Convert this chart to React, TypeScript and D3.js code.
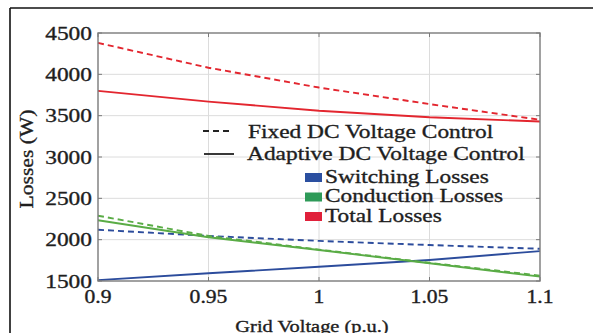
import React from "react";
import * as d3 from "d3";

const voltages = [0.9, 0.95, 1.0, 1.05, 1.1];
const totalFixed = [4380, 4080, 3840, 3640, 3450];
const totalAdaptive = [3800, 3670, 3560, 3480, 3430];
const switchingFixed = [2120, 2045, 1985, 1935, 1890];
const switchingAdaptive = [1510, 1593, 1673, 1754, 1862];
const conductionFixed = [2290, 2045, 1880, 1720, 1565];
const conductionAdaptive = [2235, 2029, 1875, 1715, 1553];
const xTicks = [0.9, 0.95, 1.0, 1.05, 1.1];
const xTickLabels = ["0.9", "0.95", "1", "1.05", "1.1"];
const yTicks = [1500, 2000, 2500, 3000, 3500, 4000, 4500];
const legendStyleItems = ["Fixed DC Voltage Control", "Adaptive DC Voltage Control"];
const legendColorItems = ["Switching Losses", "Conduction Losses", "Total Losses"];

const RED = "#e3262f";
const BLUE = "#2c4c9c";
const GREEN = "#5aac46";
const legendColors = ["#2b4fa0", "#2e9a58", "#e0203a"];

const FONT = "'Liberation Serif', 'Times New Roman', serif";
const TXT = "#1e1e1e";

export default function App() {
  const W = 593, H = 333;
  const x = d3.scaleLinear().domain([0.9, 1.1]).range([98, 540]);
  const y = d3.scaleLinear().domain([1500, 4500]).range([281, 33]);
  const line = d3.line<number>().x((_, i) => x(voltages[i])).y((d) => y(d));

  const series = [
    { data: switchingAdaptive, color: BLUE, dash: null },
    { data: switchingFixed, color: BLUE, dash: "6,4" },
    { data: conductionAdaptive, color: GREEN, dash: null },
    { data: conductionFixed, color: GREEN, dash: "6,4" },
    { data: totalAdaptive, color: RED, dash: null },
    { data: totalFixed, color: RED, dash: "6,4" },
  ];

  const [x0, x1] = x.range();
  const [yb, yt] = y.range();
  const textProps = { fill: TXT, stroke: TXT, strokeWidth: 0.35 };

  return (
    <svg
      width={W}
      height={H}
      style={{ position: "absolute", left: 0, top: 0, background: "#fff" }}
      fontFamily={FONT}
    >
      <rect x={0} y={0} width={W} height={H} fill="#fff" />
      {/* outer frame */}
      <line x1={10} y1={8} x2={W} y2={8} stroke="#111" strokeWidth={1.6} />
      <line x1={10} y1={8} x2={10} y2={H} stroke="#111" strokeWidth={1.6} />

      {/* grid */}
      {xTicks.slice(1, -1).map((t) => (
        <line key={"gx" + t} x1={x(t)} x2={x(t)} y1={yt} y2={yb} stroke="#dcdcdc" strokeWidth={1} />
      ))}
      {yTicks.slice(1, -1).map((t) => (
        <line key={"gy" + t} x1={x0} x2={x1} y1={y(t)} y2={y(t)} stroke="#dcdcdc" strokeWidth={1} />
      ))}

      {/* series */}
      {series.map((s, i) => (
        <path
          key={i}
          d={line(s.data) || ""}
          fill="none"
          stroke={s.color}
          strokeWidth={1.9}
          strokeDasharray={s.dash || undefined}
        />
      ))}

      {/* box */}
      <rect x={x0} y={yt} width={x1 - x0} height={yb - yt} fill="none" stroke="#7a7a7a" strokeWidth={1.4} />
      {/* ticks */}
      {xTicks.map((t) => (
        <g key={"tx" + t}>
          <line x1={x(t)} x2={x(t)} y1={yb} y2={yb - 4} stroke="#7a7a7a" />
          <line x1={x(t)} x2={x(t)} y1={yt} y2={yt + 4} stroke="#7a7a7a" />
        </g>
      ))}
      {yTicks.map((t) => (
        <g key={"ty" + t}>
          <line x1={x0} x2={x0 + 4} y1={y(t)} y2={y(t)} stroke="#7a7a7a" />
          <line x1={x1} x2={x1 - 4} y1={y(t)} y2={y(t)} stroke="#7a7a7a" />
        </g>
      ))}

      {/* tick labels */}
      {xTicks.map((t, i) => (
        <text
          key={"lx" + t}
          transform={`translate(${x(t)},303) scale(1.2,1)`}
          textAnchor="middle"
          fontSize={18}
          {...textProps}
        >
          {xTickLabels[i]}
        </text>
      ))}
      {yTicks.map((t) => (
        <text
          key={"ly" + t}
          transform={`translate(92,${y(t) + 6.5}) scale(1.2,1)`}
          textAnchor="end"
          fontSize={19.5}
          {...textProps}
        >
          {t}
        </text>
      ))}

      {/* axis labels */}
      <text transform={`translate(312,332) scale(1.2,1)`} textAnchor="middle" fontSize={17} {...textProps}>
        Grid Voltage (p.u.)
      </text>
      <text transform={`translate(33,159) rotate(-90) scale(1.2,1)`} textAnchor="middle" fontSize={18} {...textProps}>
        Losses (W)
      </text>

      {/* legend */}
      <line x1={203} x2={233} y1={131} y2={131} stroke="#222" strokeWidth={1.8} strokeDasharray="6,4" />
      <line x1={204} x2={234} y1={154} y2={154} stroke="#222" strokeWidth={1.8} />
      {legendStyleItems.map((label, i) => (
        <text
          key={label}
          transform={`translate(${248 - i},${138 + i * 22}) scale(1.2,1)`}
          fontSize={19.5}
          {...textProps}
        >
          {label}
        </text>
      ))}
      {legendColorItems.map((label, i) => (
        <g key={label}>
          <rect x={305} y={173 + i * 19.5} width={17} height={9} fill={legendColors[i]} />
          <text transform={`translate(325,${182.5 + i * 19.5}) scale(1.26,1)`} fontSize={18.5} {...textProps}>
            {label}
          </text>
        </g>
      ))}
    </svg>
  );
}
